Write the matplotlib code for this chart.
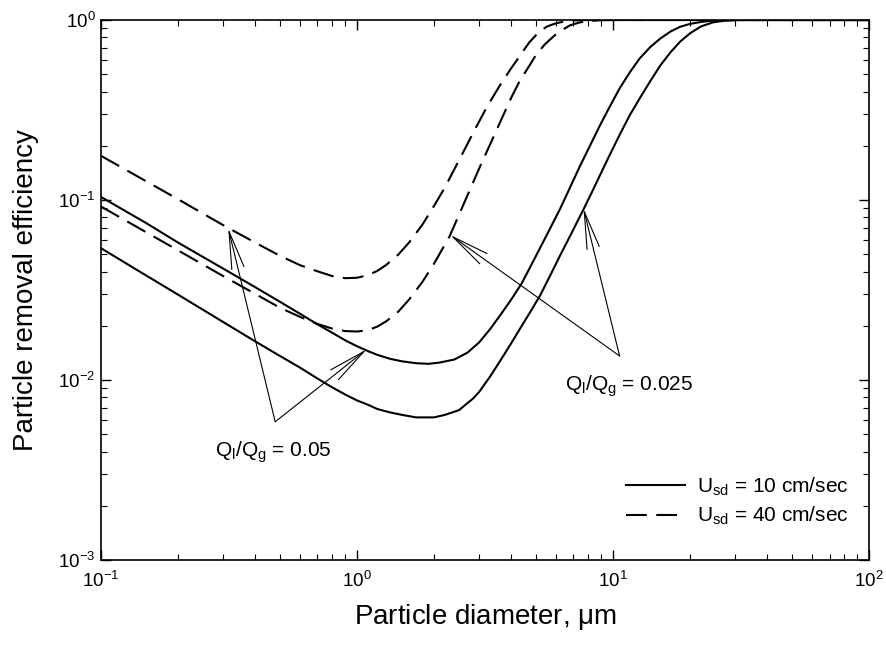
import matplotlib
matplotlib.use("Agg")
import matplotlib.pyplot as plt

plt.rcParams['font.family'] = ['Liberation Sans', 'DejaVu Sans']
plt.rcParams['mathtext.fontset'] = 'custom'
plt.rcParams['mathtext.rm'] = 'Liberation Sans'
plt.rcParams['mathtext.it'] = 'Liberation Sans:italic'

# curves: particle diameter (um) vs removal efficiency
d_u40_q05 = [0.1, 0.2, 0.3, 0.4, 0.5, 0.6, 0.7, 0.8, 0.9, 1.0, 1.1, 1.2, 1.3, 1.45, 1.6,
             1.8, 2.0, 2.2, 2.5, 2.9, 3.2, 3.6, 4.0, 4.3, 4.7, 5.1, 5.5, 5.8, 6.1, 6.4,
             7.0, 8.0, 100]
e_u40_q05 = [0.176, 0.101, 0.0725, 0.058, 0.049, 0.0434, 0.0402, 0.0378, 0.0368, 0.0370,
             0.0382, 0.0404, 0.0436, 0.0498, 0.0583, 0.073, 0.093, 0.117, 0.166, 0.250,
             0.325, 0.43, 0.54, 0.625, 0.75, 0.85, 0.918, 0.945, 0.965, 0.98, 0.995, 1.0, 1.0]

d_u40_q025 = [0.1, 0.2, 0.3, 0.4, 0.5, 0.6, 0.7, 0.8, 0.9, 1.0, 1.1, 1.2, 1.3, 1.45, 1.6,
              1.8, 2.0, 2.3, 2.6, 3.0, 3.4, 3.7, 4.0, 4.3, 4.7, 5.0, 5.4, 5.9, 6.4, 6.8,
              7.4, 8.0, 9.0, 10, 100]
e_u40_q025 = [0.092, 0.0525, 0.0378, 0.0301, 0.0252, 0.0224, 0.0205, 0.0193, 0.0187, 0.0186,
              0.0189, 0.0198, 0.0212, 0.024, 0.0281, 0.0351, 0.0444, 0.063, 0.094, 0.150,
              0.222, 0.29, 0.37, 0.454, 0.555, 0.64, 0.73, 0.82, 0.89, 0.935, 0.97, 0.985,
              0.998, 1.0, 1.0]

d_u10_q05 = [0.1, 0.15, 0.2, 0.3, 0.4, 0.5, 0.6, 0.7, 0.8, 0.9, 1.0, 1.1, 1.2, 1.35, 1.5,
             1.7, 1.9, 2.1, 2.4, 2.7, 3.0, 3.3, 3.6, 4.0, 4.4, 5.0, 5.6, 6.2, 6.8, 7.4,
             8.2, 8.9, 9.7, 10.6, 11.6, 12.7, 14.0, 15.3, 16.8, 18.3, 20, 22, 24, 26, 30, 100]
e_u10_q05 = [0.104, 0.0745, 0.058, 0.0416, 0.0328, 0.0272, 0.0233, 0.0204, 0.0183, 0.0166,
             0.0154, 0.0145, 0.0138, 0.0131, 0.0127, 0.0124, 0.0123, 0.0125, 0.0130, 0.0142,
             0.0162, 0.0191, 0.0226, 0.0280, 0.0345, 0.049, 0.067, 0.089, 0.118, 0.153,
             0.206, 0.261, 0.33, 0.417, 0.51, 0.612, 0.71, 0.79, 0.865, 0.918, 0.952, 0.975,
             0.99, 0.997, 1.0, 1.0]

d_u10_q025 = [0.1, 0.15, 0.2, 0.3, 0.4, 0.5, 0.6, 0.7, 0.8, 0.9, 1.0, 1.1, 1.2, 1.35, 1.5,
              1.7, 1.85, 2.0, 2.2, 2.5, 2.84, 3.0, 3.3, 3.6, 4.0, 4.34, 4.8, 5.2, 5.7, 6.2,
              6.9, 7.7, 8.3, 8.9, 9.7, 10.6, 11.6, 12.7, 14.0, 15.3, 16.8, 18.3, 20, 22,
              24.5, 27, 30, 33, 100]
e_u10_q025 = [0.054, 0.0381, 0.0298, 0.0210, 0.0164, 0.0136, 0.0117, 0.0102, 0.0091, 0.0083,
              0.0077, 0.0073, 0.0069, 0.0066, 0.0064, 0.0062, 0.0062, 0.0062, 0.0064, 0.0068,
              0.0079, 0.0086, 0.0104, 0.0126, 0.0160, 0.0194, 0.0245, 0.0297, 0.0385, 0.049,
              0.066, 0.090, 0.112, 0.138, 0.178, 0.23, 0.295, 0.367, 0.46, 0.56, 0.665, 0.76,
              0.845, 0.92, 0.97, 0.99, 0.998, 1.0, 1.0]

# annotation vertices and arrow tips (data coords)
q05_vertex = (0.479, 0.00586)
q05_tips = [(0.314, 0.0697), (1.09, 0.0148)]
q025_vertex = (10.6, 0.0136)
q025_tips = [(2.31, 0.064), (7.66, 0.090)]

fig = plt.figure(figsize=(8.86, 6.46), dpi=100)
ax = fig.add_axes([0.114, 0.1331, 0.867, 0.8359])

ax.plot(d_u10_q05, e_u10_q05, color='black', lw=1.5, label=r'U$_\mathregular{sd}$ = 10 cm/sec')
ax.plot(d_u10_q025, e_u10_q025, color='black', lw=1.5)
ax.plot(d_u40_q05, e_u40_q05, color='black', lw=1.5, dashes=(10, 4.5),
        label=r'U$_\mathregular{sd}$ = 40 cm/sec')
ax.plot(d_u40_q025, e_u40_q025, color='black', lw=1.5, dashes=(10, 4.5))

ax.set_xscale('log')
ax.set_yscale('log')
ax.set_xlim(0.1, 100)
ax.set_ylim(1e-3, 1)

arrow = dict(arrowstyle='->,head_length=2.7,head_width=0.45', color='black', lw=0.8,
             shrinkA=0, shrinkB=0, mutation_scale=10)
for tip in q05_tips:
    ax.annotate('', xy=tip, xytext=q05_vertex, arrowprops=arrow)
for tip in q025_tips:
    ax.annotate('', xy=tip, xytext=q025_vertex, arrowprops=arrow)

ax.text(0.47, 0.0047, r'Q$_\mathregular{l}$/Q$_\mathregular{g}$ = 0.05', fontsize=15,
        ha='center', va='top')
ax.text(11.5, 0.0109, r'Q$_\mathregular{l}$/Q$_\mathregular{g}$ = 0.025', fontsize=15,
        ha='center', va='top')

ax.set_xlabel(r'Particle diameter, $\mathregular{\mu}$m', fontsize=20, labelpad=8)
ax.set_ylabel('Particle removal efficiency', fontsize=20, labelpad=14)

ax.tick_params(which='both', direction='in', top=True, right=True, labelsize=13.5)
ax.tick_params(which='major', length=7, width=1)
ax.tick_params(which='minor', length=4, width=0.8)
ax.tick_params(axis='x', pad=8)
ax.tick_params(axis='y', pad=4)
for s in ax.spines.values():
    s.set_linewidth(1.2)

ax.legend(loc='lower right', bbox_to_anchor=(0.998, 0.026), frameon=False, fontsize=15,
          handlelength=2.8, handletextpad=0.6, labelspacing=0.35)

fig.savefig('out.png', dpi=100)
